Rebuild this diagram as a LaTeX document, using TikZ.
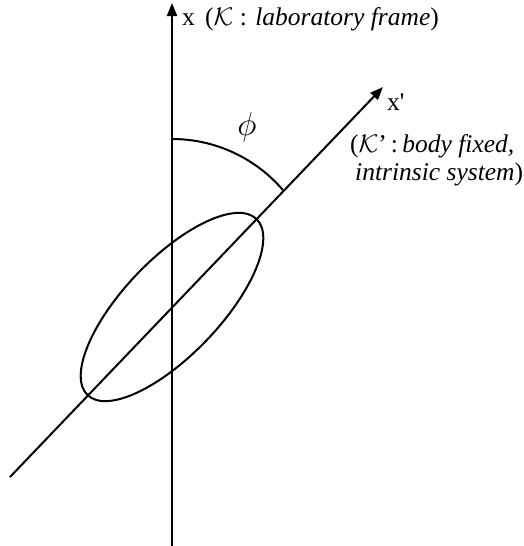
\RequirePackage{fix-cm}
\documentclass[tikz,border=0pt]{standalone}
\usepackage{fontspec}
\setmainfont{Liberation Serif}
\usetikzlibrary{arrows.meta}
\begin{document}
\begin{tikzpicture}[x=1pt,y=-1pt,
  axis/.style={line width=2pt,-{Triangle[length=13pt,width=10pt]}},
  lbl/.style={font=\fontsize{25.5}{28}\selectfont,inner sep=0pt,anchor=base west}]
\useasboundingbox (0,0) rectangle (523,546);
\coordinate (O) at (172,307);
\coordinate (vb) at (172,546);
\coordinate (vt) at (172,3);
\coordinate (tb) at (10,477);
\coordinate (tt) at (383,87);
\draw[axis] (vb) -- (vt);
\draw[axis] (tb) -- (tt);
\draw[line width=2pt] (O) ellipse[x radius=122pt,y radius=48pt,rotate=46.2];
\draw[line width=2pt] (172,139) arc[start angle=90,end angle=40.6,radius=146pt];
\node[lbl] (xl) at (182,25) {x\hspace{0.15em} ($\mathcal{K}$ : \textit{laboratory frame})};
\node[font=\fontsize{33}{33}\selectfont,inner sep=0pt] (phi) at (247,127) {$\phi$};
\node[lbl] (xp) at (387,110) {x\textquotesingle};
\node[lbl] (b1) at (350,152) {($\mathcal{K}$'\hspace{0.15em}:\hspace{0.18em}\textit{body fixed,}};
\node[lbl] (b2) at (355,180) {\textit{intrinsic system})};
\end{tikzpicture}
\end{document}
